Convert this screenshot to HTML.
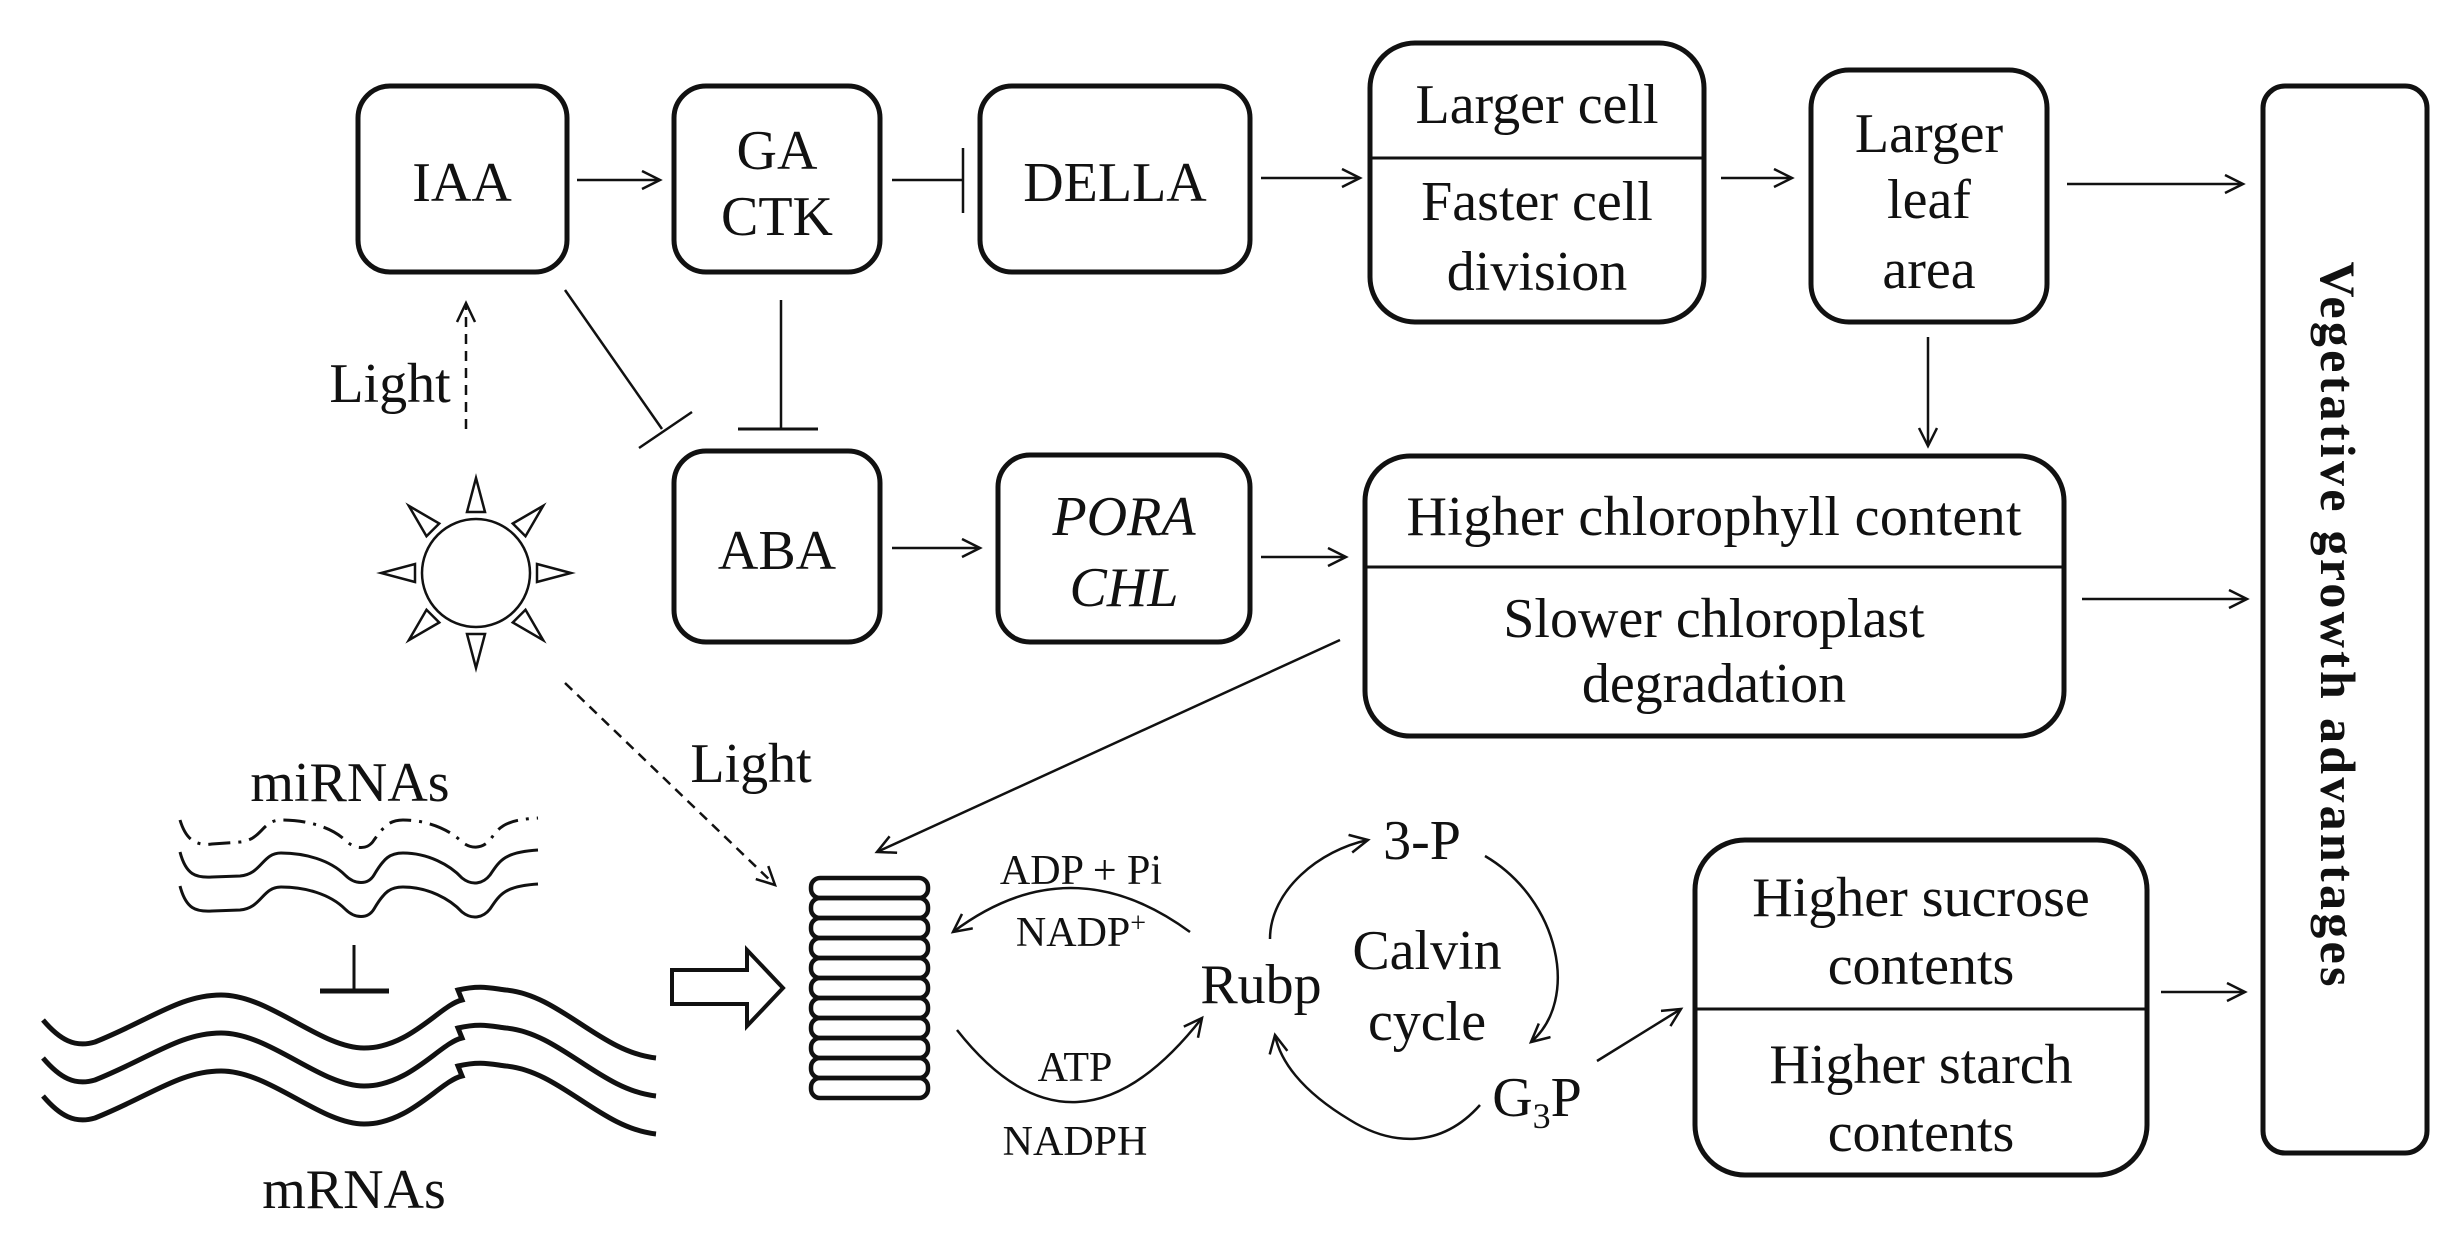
<!DOCTYPE html>
<html><head><meta charset="utf-8"><style>
html,body{margin:0;padding:0;background:#fff}
svg{display:block}
text{font-family:"Liberation Serif",serif;fill:#111}
</style></head><body>
<svg width="2462" height="1236" viewBox="0 0 2462 1236" xmlns="http://www.w3.org/2000/svg">
<defs>
<marker id="a" markerUnits="userSpaceOnUse" markerWidth="24" markerHeight="24" refX="20" refY="10" orient="auto">
<path d="M2,1 L20,10 L2,19" fill="none" stroke="#111" stroke-width="2.5"/>
</marker>
</defs>
<g fill="none" stroke="#111" stroke-width="5">
<rect x="358" y="86" width="209" height="186" rx="32"/>
<rect x="674" y="86" width="206" height="186" rx="32"/>
<rect x="980" y="86" width="270" height="186" rx="32"/>
<rect x="1370" y="43" width="334" height="279" rx="45"/>
<line x1="1370" y1="158" x2="1704" y2="158" stroke-width="3"/>
<rect x="1811" y="70" width="236" height="252" rx="38"/>
<rect x="2263" y="86" width="164" height="1067" rx="22"/>
<rect x="674" y="451" width="206" height="191" rx="32"/>
<rect x="998" y="455" width="252" height="187" rx="32"/>
<rect x="1365" y="456" width="699" height="280" rx="45"/>
<line x1="1365" y1="567" x2="2064" y2="567" stroke-width="3"/>
<rect x="1695" y="840" width="452" height="335" rx="50"/>
<line x1="1695" y1="1009" x2="2147" y2="1009" stroke-width="3"/>
</g>
<g fill="none" stroke="#111" stroke-width="2.5">
<line x1="577" y1="180" x2="660" y2="180" marker-end="url(#a)"/>
<line x1="892" y1="180" x2="963" y2="180"/><line x1="963" y1="148" x2="963" y2="213"/>
<line x1="1261" y1="178" x2="1360" y2="178" marker-end="url(#a)"/>
<line x1="1721" y1="178" x2="1792" y2="178" marker-end="url(#a)"/>
<line x1="2067" y1="184" x2="2243" y2="184" marker-end="url(#a)"/>
<line x1="1928" y1="337" x2="1928" y2="446" marker-end="url(#a)"/>
<line x1="565" y1="290" x2="662" y2="429"/><line x1="639" y1="448" x2="692" y2="412"/>
<line x1="781" y1="300" x2="781" y2="429"/><line x1="738" y1="429" x2="818" y2="429" stroke-width="3"/>
<line x1="466" y1="429" x2="466" y2="305" stroke-dasharray="10 7"/>
<path d="M457,322 L466,303 L475,322"/>
<line x1="892" y1="548" x2="980" y2="548" marker-end="url(#a)"/>
<line x1="1261" y1="557" x2="1346" y2="557" marker-end="url(#a)"/>
<line x1="2082" y1="599" x2="2247" y2="599" marker-end="url(#a)"/>
<line x1="1340" y1="640" x2="877" y2="852" marker-end="url(#a)"/>
<line x1="565" y1="683" x2="775" y2="885" stroke-dasharray="10 7" marker-end="url(#a)"/>
<path d="M1190,932 Q1070,844 953,932" marker-end="url(#a)"/>
<path d="M957,1030 Q1075,1180 1202,1018" marker-end="url(#a)"/>
<path d="M1270,939 C1270,890 1320,850 1368,840" marker-end="url(#a)"/>
<path d="M1485,856 C1560,900 1580,1000 1531,1042" marker-end="url(#a)"/>
<path d="M1480,1105 C1440,1150 1390,1145 1350,1120 C1300,1090 1280,1060 1275,1035" marker-end="url(#a)"/>
<line x1="1597" y1="1061" x2="1681" y2="1009" marker-end="url(#a)"/>
<line x1="2161" y1="992" x2="2245" y2="992" marker-end="url(#a)"/>
<line x1="354" y1="945" x2="354" y2="991" stroke-width="3"/><line x1="320" y1="991" x2="389" y2="991" stroke-width="5"/>
</g>
<!-- sun -->
<g fill="none" stroke="#111" stroke-width="2.5">
<circle cx="476" cy="573" r="54"/>
<g id="t"><path d="M467,512 L476,478 L485,512 Z"/></g>
<use href="#t" transform="rotate(45 476 573)"/>
<use href="#t" transform="rotate(90 476 573)"/>
<use href="#t" transform="rotate(135 476 573)"/>
<use href="#t" transform="rotate(180 476 573)"/>
<use href="#t" transform="rotate(225 476 573)"/>
<use href="#t" transform="rotate(270 476 573)"/>
<use href="#t" transform="rotate(315 476 573)"/>
</g>
<!-- chloroplast stack -->
<g fill="none" stroke="#111" stroke-width="4.5">
<rect x="811" y="878" width="117" height="20" rx="9"/>
<rect x="811" y="898" width="117" height="20" rx="9"/>
<rect x="811" y="918" width="117" height="20" rx="9"/>
<rect x="811" y="938" width="117" height="20" rx="9"/>
<rect x="811" y="958" width="117" height="20" rx="9"/>
<rect x="811" y="978" width="117" height="20" rx="9"/>
<rect x="811" y="998" width="117" height="20" rx="9"/>
<rect x="811" y="1018" width="117" height="20" rx="9"/>
<rect x="811" y="1038" width="117" height="20" rx="9"/>
<rect x="811" y="1058" width="117" height="20" rx="9"/>
<rect x="811" y="1078" width="117" height="20" rx="9"/>
</g>
<polygon points="672,970 747,970 747,950 783,988 747,1026 747,1004 672,1004" fill="none" stroke="#111" stroke-width="4"/>
<!-- miRNA waves -->
<g fill="none" stroke="#111" stroke-width="3" transform="translate(0,-20)">
<path id="mw" d="M180,872 C186,895 196,898 212,897 L240,896 C262,894 262,873 281,873 C305,873 330,880 345,895 C355,905 368,905 374,895 C384,878 390,873 403,873 C428,873 450,885 462,898 C472,906 483,904 490,895 C500,880 505,872 538,870"/>
<use href="#mw" transform="translate(0,34)"/>
<path d="M180,840 C186,860 196,866 212,864 L240,862 C262,860 262,840 281,840 C305,840 330,846 345,860 C355,870 368,870 374,860 C384,846 390,840 403,840 C428,840 450,850 462,862 C472,870 483,868 490,860 C500,846 505,840 538,838" stroke-dasharray="22 8 3 8"/>
</g>
<!-- mRNA waves -->
<g fill="none" stroke="#111" stroke-width="5">
<path id="rw" d="M43,1020 C60,1040 75,1048 95,1042 C150,1020 180,995 221,995 C270,995 320,1048 364,1048 C410,1048 440,1005 462,1000 L458,990 C480,985 490,988 506,990 C560,995 600,1052 656,1058"/>
<use href="#rw" transform="translate(0,38)"/>
<use href="#rw" transform="translate(0,76)"/>
</g>
<!-- text -->
<g font-size="56" text-anchor="middle">
<text x="462" y="201">IAA</text>
<text x="777" y="169">GA</text><text x="777" y="235">CTK</text>
<text x="1115" y="201">DELLA</text>
<text x="1537" y="123">Larger cell</text>
<text x="1537" y="220">Faster cell</text>
<text x="1537" y="290">division</text>
<text x="1929" y="152">Larger</text><text x="1929" y="218">leaf</text><text x="1929" y="288">area</text>
<text x="777" y="569">ABA</text>
<text x="1124" y="535" font-style="italic">PORA</text>
<text x="1124" y="606" font-style="italic">CHL</text>
<text x="1714" y="535" textLength="615">Higher chlorophyll content</text>
<text x="1714" y="637">Slower chloroplast</text>
<text x="1714" y="702">degradation</text>
<text x="390" y="402">Light</text>
<text x="751" y="782">Light</text>
<text x="350" y="801">miRNAs</text>
<text x="354" y="1208">mRNAs</text>
<text x="1261" y="1003">Rubp</text>
<text x="1422" y="859">3-P</text>
<text x="1427" y="969">Calvin</text>
<text x="1427" y="1040">cycle</text>
<text x="1537" y="1116">G<tspan font-size="36" dy="12">3</tspan><tspan dy="-12">P</tspan></text>
<text x="1921" y="916">Higher sucrose</text>
<text x="1921" y="984">contents</text>
<text x="1921" y="1083">Higher starch</text>
<text x="1921" y="1151">contents</text>
</g>
<g font-size="42" text-anchor="middle">
<text x="1081" y="884">ADP + Pi</text>
<text x="1081" y="946">NADP<tspan font-size="28" dy="-14">+</tspan></text>
<text x="1075" y="1081">ATP</text>
<text x="1075" y="1155">NADPH</text>
</g>
<text x="0" y="0" font-size="50" font-weight="bold" text-anchor="middle" transform="translate(2321,624) rotate(90)" textLength="725">Vegetative growth advantages</text>
</svg>
</body></html>
